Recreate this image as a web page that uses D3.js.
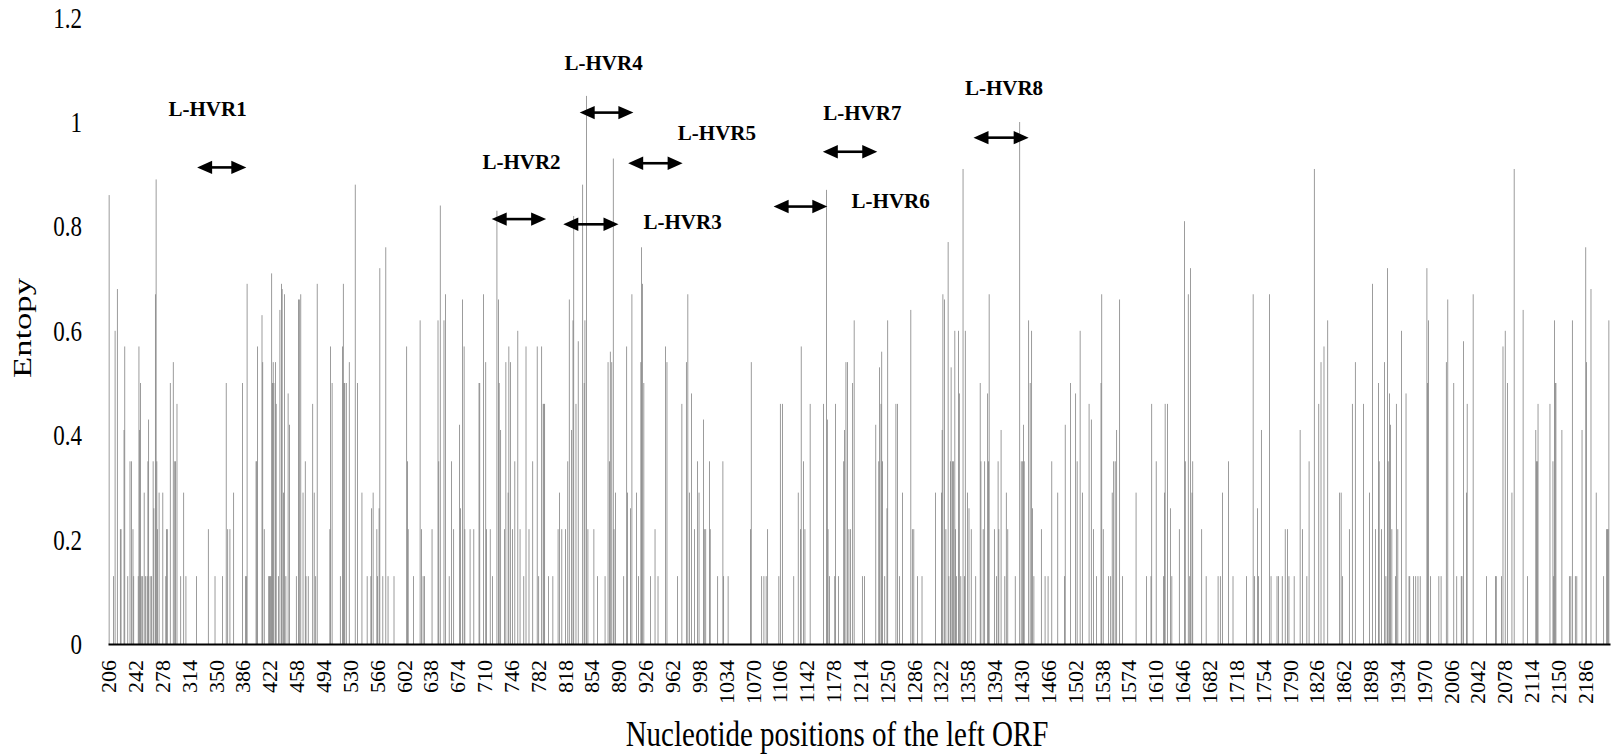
<!DOCTYPE html>
<html>
<head>
<meta charset="utf-8">
<script src="https://cdn.jsdelivr.net/npm/d3@7"></script>
<style>
  body { margin: 0; background: #fff; }
  svg { display: block; }
  text { font-family: "Liberation Serif", "Times New Roman", serif; fill: #000; }
</style>
</head>
<body>
<div id="chart"></div>
<script>
// nucleotide range of the left ORF shown on the axis
var firstPos = 206, lastPos = 2219;
var labelStep = 36;
var yTicks = [0, 0.2, 0.4, 0.6, 0.8, 1, 1.2];

// [position, entropy], zero sites left out
var sites206 = [[207,0.86],[213,0.13],[215,0.60],[218,0.68],[222,0.22],[223,0.22],[227,0.41],[228,0.57],[232,0.13],[235,0.35],[237,0.35],[239,0.22],[240,0.13],[246,0.13],[247,0.57],[248,0.41],[249,0.50],[250,0.13],[252,0.13],[254,0.29],[256,0.13],[258,0.13],[259,0.35],[260,0.43],[262,0.13],[264,0.13],[266,0.35],[267,0.26],[269,0.67],[270,0.89],[271,0.35],[272,0.22],[274,0.29],[279,0.29],[283,0.13],[284,0.22],[285,0.22],[289,0.50],[293,0.54],[295,0.35],[296,0.35],[298,0.46],[303,0.13],[307,0.29],[310,0.13],[324,0.13],[340,0.22],[349,0.13],[359,0.13],[364,0.50],[366,0.22],[369,0.22],[374,0.29],[386,0.50],[390,0.13],[391,0.13],[392,0.69],[404,0.35],[405,0.35],[406,0.57],[412,0.63],[413,0.54],[415,0.22],[421,0.13],[422,0.13],[423,0.13],[424,0.13],[425,0.71],[426,0.50],[427,0.54],[428,0.50],[430,0.54],[431,0.46],[434,0.13],[436,0.64],[438,0.69],[439,0.68],[441,0.29],[442,0.67],[444,0.13],[447,0.48],[449,0.42],[458,0.13],[461,0.66],[462,0.66],[464,0.67],[467,0.29],[470,0.35],[471,0.13],[474,0.13],[480,0.46],[482,0.29],[484,0.13],[486,0.69],[503,0.22],[504,0.57],[506,0.50],[517,0.13],[520,0.57],[521,0.69],[522,0.50],[523,0.50],[525,0.50],[529,0.54],[537,0.88],[540,0.50]];
var sites541 = [[546,0.29],[553,0.13],[558,0.13],[559,0.26],[561,0.29],[566,0.22],[567,0.13],[569,0.26],[570,0.72],[574,0.13],[578,0.76],[581,0.13],[589,0.13],[606,0.57],[607,0.35],[608,0.22],[615,0.13],[624,0.62],[626,0.22],[628,0.13],[630,0.13],[640,0.22],[648,0.62],[649,0.35],[651,0.84],[656,0.62],[658,0.67],[663,0.13],[666,0.35],[669,0.22],[677,0.42],[678,0.26],[681,0.66],[683,0.57],[684,0.22],[691,0.22],[696,0.22],[703,0.50],[704,0.50],[709,0.67],[712,0.54],[713,0.22],[718,0.22],[721,0.13],[727,0.83],[729,0.66],[730,0.50],[732,0.41],[737,0.22],[739,0.54],[742,0.29],[743,0.57],[745,0.54],[748,0.22],[751,0.35],[755,0.60],[758,0.22],[763,0.13],[766,0.57],[770,0.22],[775,0.35],[781,0.57],[783,0.13],[787,0.57],[789,0.46],[790,0.46],[791,0.46],[796,0.13],[802,0.13],[809,0.22],[811,0.29],[814,0.22],[819,0.22],[822,0.35],[824,0.66],[827,0.41],[829,0.62],[830,0.82],[833,0.46],[836,0.58],[842,0.88],[844,0.50],[845,0.62],[847,1.05],[849,0.22],[857,0.22],[862,0.13],[872,0.13],[876,0.54]];
var sites877 = [[878,0.35],[879,0.56],[881,0.54],[883,0.93],[884,0.22],[886,0.29],[897,0.13],[901,0.57],[902,0.29],[906,0.26],[908,0.67],[914,0.29],[917,0.13],[920,0.54],[921,0.76],[922,0.69],[924,0.50],[933,0.13],[939,0.22],[943,0.13],[953,0.57],[955,0.54],[969,0.13],[975,0.46],[981,0.54],[983,0.67],[985,0.29],[988,0.48],[992,0.22],[996,0.35],[998,0.29],[1004,0.43],[1005,0.22],[1007,0.22],[1012,0.35],[1013,0.22],[1023,0.13],[1030,0.35],[1031,0.13],[1037,0.13],[1067,0.22],[1068,0.54],[1082,0.13],[1085,0.13],[1088,0.13],[1090,0.22],[1105,0.13],[1107,0.46],[1110,0.46],[1125,0.13],[1131,0.29],[1134,0.22],[1135,0.57],[1138,0.35],[1140,0.22],[1147,0.46],[1165,0.46],[1169,0.87],[1170,0.43],[1171,0.22],[1173,0.13],[1180,0.13],[1181,0.46],[1185,0.13],[1192,0.35],[1193,0.41],[1195,0.54],[1197,0.54],[1199,0.22],[1201,0.22],[1204,0.50],[1206,0.62]];
var sites1211 = [[1217,0.13],[1220,0.13],[1235,0.42],[1239,0.35],[1240,0.53],[1242,0.46],[1243,0.56],[1244,0.35],[1247,0.13],[1250,0.26],[1251,0.62],[1262,0.46],[1264,0.46],[1267,0.13],[1271,0.29],[1282,0.64],[1284,0.22],[1286,0.22],[1291,0.13],[1297,0.13],[1315,0.29],[1323,0.29],[1324,0.41],[1325,0.67],[1327,0.66],[1329,0.22],[1332,0.77],[1333,0.13],[1335,0.35],[1336,0.53],[1338,0.35],[1339,0.35],[1341,0.60],[1342,0.22],[1343,0.13],[1346,0.60],[1347,0.48],[1349,0.13],[1352,0.91],[1354,0.13],[1355,0.60],[1358,0.29],[1360,0.26],[1363,0.22],[1369,0.13],[1375,0.50],[1376,0.35],[1379,0.22],[1381,0.35],[1385,0.48],[1386,0.35],[1387,0.67],[1394,0.22],[1397,0.13],[1399,0.35],[1400,0.22],[1403,0.41],[1408,0.13],[1410,0.29],[1412,0.22],[1422,0.13],[1428,1.0],[1430,0.35],[1432,0.35],[1433,0.42],[1434,0.35],[1440,0.62],[1442,0.50],[1444,0.60],[1445,0.26],[1447,0.13],[1457,0.22],[1462,0.13],[1466,0.13],[1471,0.35],[1479,0.29],[1488,0.13],[1489,0.42],[1496,0.50],[1503,0.48],[1505,0.35],[1509,0.60],[1512,0.29],[1521,0.46],[1524,0.43],[1527,0.22],[1531,0.13],[1537,0.50],[1538,0.67],[1540,0.22]];
var sites1541 = [[1547,0.13],[1550,0.13],[1552,0.29],[1554,0.35],[1556,0.35],[1558,0.41],[1562,0.66],[1566,0.13],[1584,0.29],[1598,0.13],[1604,0.13],[1605,0.46],[1611,0.35],[1621,0.13],[1622,0.29],[1623,0.46],[1626,0.46],[1630,0.26],[1632,0.13],[1642,0.22],[1649,0.81],[1650,0.35],[1654,0.67],[1656,0.13],[1657,0.72],[1659,0.29],[1660,0.35],[1672,0.22],[1678,0.13],[1694,0.13],[1697,0.13],[1700,0.29],[1708,0.35],[1714,0.13],[1732,0.13],[1741,0.67],[1743,0.13],[1747,0.26],[1748,0.13],[1752,0.41],[1763,0.67],[1765,0.13],[1773,0.13],[1775,0.13],[1780,0.13],[1784,0.22],[1787,0.22],[1789,0.13],[1796,0.13],[1804,0.41],[1807,0.22],[1813,0.13],[1816,0.35],[1823,0.91],[1829,0.46],[1832,0.54],[1836,0.57],[1841,0.62],[1857,0.29],[1859,0.29],[1861,0.13],[1870,0.22],[1874,0.46],[1878,0.54]];
var sites1881 = [[1889,0.46],[1897,0.29],[1901,0.69],[1905,0.22],[1909,0.50],[1910,0.35],[1913,0.22],[1917,0.54],[1919,0.13],[1921,0.72],[1922,0.35],[1924,0.48],[1925,0.42],[1927,0.22],[1932,0.13],[1933,0.46],[1935,0.22],[1940,0.60],[1946,0.48],[1950,0.13],[1951,0.13],[1956,0.13],[1959,0.13],[1962,0.13],[1965,0.13],[1974,0.72],[1975,0.50],[1976,0.62],[1979,0.13],[1990,0.13],[1993,0.13],[2000,0.54],[2002,0.66],[2010,0.50],[2014,0.13],[2020,0.13],[2021,0.13],[2023,0.58],[2027,0.29],[2028,0.46],[2036,0.67],[2054,0.13],[2066,0.13],[2067,0.13],[2074,0.13],[2076,0.57],[2079,0.60],[2082,0.50],[2088,0.29],[2091,0.91],[2103,0.64],[2109,0.13],[2120,0.41],[2121,0.35],[2122,0.35],[2123,0.46],[2139,0.46],[2143,0.35],[2144,0.13],[2145,0.62],[2146,0.50],[2147,0.50],[2155,0.41],[2165,0.13],[2167,0.13],[2169,0.62],[2173,0.13],[2175,0.13],[2182,0.41],[2187,0.76],[2188,0.54],[2194,0.68],[2201,0.29],[2211,0.13],[2215,0.22],[2216,0.22],[2217,0.22],[2218,0.62]];

// hypervariable regions: arrow span and height, label anchor
var hvrNames = ["L-HVR1", "L-HVR2", "L-HVR3", "L-HVR4", "L-HVR5", "L-HVR6", "L-HVR7", "L-HVR8"];
var hvrStart = [325, 720, 816, 838, 903, 1098, 1164, 1366];
var hvrEnd = [391, 793, 890, 910, 976, 1170, 1237, 1440];
var hvrArrowLevel = [0.913, 0.814, 0.804, 1.018, 0.921, 0.838, 0.943, 0.970];
var hvrLabelPos = [339, 760, 976, 870, 1022, 1255, 1217, 1407];
var hvrLabelLevel = [1.011, 0.910, 0.795, 1.10, 0.966, 0.835, 1.004, 1.052];

var sites = [].concat(sites206, sites541, sites877, sites1211, sites1541, sites1881);

var width = 1621, height = 755;
var svg = d3.select("#chart").append("svg").attr("width", width).attr("height", height);

var x = d3.scaleBand().domain(d3.range(firstPos, lastPos + 1)).range([108, 1610]).padding(0);
var y = d3.scaleLinear().domain([0, 1.2]).range([644, 17.6]);
var bw = x.bandwidth();

// bars
svg.append("g").selectAll("rect").data(sites).enter().append("rect")
    .attr("x", function(d) { return x(d[0]); })
    .attr("width", bw)
    .attr("y", function(d) { return y(d[1]); })
    .attr("height", function(d) { return y(0) - y(d[1]); })
    .attr("fill", "#7a7a7a");

// x axis
var xAxis = d3.axisBottom(x)
    .tickValues(d3.range(firstPos, lastPos + 1, labelStep))
    .tickSize(0);
var gx = svg.append("g").attr("transform", "translate(0," + y(0) + ")").call(xAxis);
gx.select(".domain").attr("stroke", "#000").attr("stroke-width", 2);
gx.selectAll("text")
    .attr("transform", "rotate(-90)")
    .attr("x", -16)
    .attr("y", 0)
    .attr("dy", "0.35em")
    .style("text-anchor", "end")
    .style("font-size", "22px")
    .style("font-family", "'Liberation Serif', 'Times New Roman', serif");

// y labels (no axis line in the original)
svg.append("g").selectAll("text").data(yTicks).enter().append("text")
    .attr("transform", function(d) { return "translate(82," + y(d) + ") scale(1,1.25)"; })
    .attr("dy", "0.35em")
    .attr("text-anchor", "end")
    .style("font-size", "23px")
    .text(function(d) { return d; });

svg.append("text")
    .attr("transform", "translate(31,328) rotate(-90) scale(1.33,1)")
    .attr("text-anchor", "middle")
    .style("font-size", "26px")
    .text("Entopy");

svg.append("text")
    .attr("transform", "translate(837,746) scale(1,1.2)")
    .attr("text-anchor", "middle")
    .style("font-size", "29px")
    .text("Nucleotide positions of the left ORF");

// HVR arrows
var head = 15, half = 6.7;
hvrNames.forEach(function(name, i) {
  var x0 = x(hvrStart[i]) + bw / 2, x1 = x(hvrEnd[i]) + bw / 2, ya = y(hvrArrowLevel[i]);
  var g = svg.append("g");
  g.append("line")
      .attr("x1", x0 + head - 2).attr("x2", x1 - head + 2)
      .attr("y1", ya).attr("y2", ya)
      .attr("stroke", "#000").attr("stroke-width", 2.6);
  g.append("path")
      .attr("d", "M" + x0 + "," + ya + "L" + (x0 + head) + "," + (ya - half) + "L" + (x0 + head) + "," + (ya + half) + "Z")
      .attr("fill", "#000");
  g.append("path")
      .attr("d", "M" + x1 + "," + ya + "L" + (x1 - head) + "," + (ya - half) + "L" + (x1 - head) + "," + (ya + half) + "Z")
      .attr("fill", "#000");
  svg.append("text")
      .attr("x", x(hvrLabelPos[i]) + bw / 2)
      .attr("y", y(hvrLabelLevel[i]))
      .attr("text-anchor", "middle")
      .style("font-size", "21px")
      .style("font-weight", "bold")
      .text(name);
});
</script>
</body>
</html>
